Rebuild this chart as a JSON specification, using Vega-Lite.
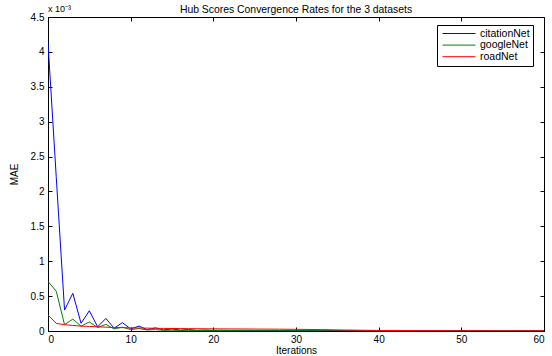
{
  "$schema": "https://vega.github.io/schema/vega-lite/v6.json",
  "width": 496,
  "height": 314,
  "autosize": "none",
  "padding": {"left": 48, "top": 17, "right": 8, "bottom": 25},
  "background": "white",
  "config": {
    "font": "Liberation Sans",
    "view": {"stroke": "black", "strokeWidth": 1},
    "axis": {"grid": false, "domain": false, "tickColor": "black", "labelColor": "black", "titleColor": "black", "labelFontSize": 10, "titleFontSize": 10, "titleFontWeight": "normal", "tickSize": -4, "labelOverlap": false}
  },
  "title": {"text": "Hub Scores Convergence Rates for the 3 datasets", "fontSize": 10.4, "fontWeight": "normal", "color": "black", "offset": 4, "dy": 14, "anchor": "middle", "frame": "group"},
  "data": {"values": [
    {"it":0,"citationNet":4.13,"googleNet":0.71,"roadNet":0.23},
    {"it":1,"citationNet":2.2,"googleNet":0.57,"roadNet":0.11},
    {"it":2,"citationNet":0.30,"googleNet":0.09,"roadNet":0.09},
    {"it":3,"citationNet":0.54,"googleNet":0.17,"roadNet":0.08},
    {"it":4,"citationNet":0.11,"googleNet":0.07,"roadNet":0.07},
    {"it":5,"citationNet":0.29,"googleNet":0.13,"roadNet":0.065},
    {"it":6,"citationNet":0.06,"googleNet":0.05,"roadNet":0.06},
    {"it":7,"citationNet":0.18,"googleNet":0.095,"roadNet":0.055},
    {"it":8,"citationNet":0.04,"googleNet":0.03,"roadNet":0.05},
    {"it":9,"citationNet":0.12,"googleNet":0.055,"roadNet":0.048},
    {"it":10,"citationNet":0.03,"googleNet":0.02,"roadNet":0.045},
    {"it":11,"citationNet":0.07,"googleNet":0.035,"roadNet":0.043},
    {"it":12,"citationNet":0.02,"googleNet":0.015,"roadNet":0.041},
    {"it":13,"citationNet":0.045,"googleNet":0.02,"roadNet":0.039},
    {"it":14,"citationNet":0.015,"googleNet":0.01,"roadNet":0.037},
    {"it":15,"citationNet":0.03,"googleNet":0.012,"roadNet":0.036},
    {"it":16,"citationNet":0.012,"googleNet":0.008,"roadNet":0.035},
    {"it":17,"citationNet":0.02,"googleNet":0.009,"roadNet":0.034},
    {"it":18,"citationNet":0.01,"googleNet":0.007,"roadNet":0.033},
    {"it":19,"citationNet":0.014,"googleNet":0.007,"roadNet":0.032},
    {"it":20,"citationNet":0.01,"googleNet":0.006,"roadNet":0.031},
    {"it":22,"citationNet":0.009,"googleNet":0.006,"roadNet":0.03},
    {"it":25,"citationNet":0.008,"googleNet":0.005,"roadNet":0.028},
    {"it":28,"citationNet":0.007,"googleNet":0.005,"roadNet":0.026},
    {"it":30,"citationNet":0.006,"googleNet":0.004,"roadNet":0.024},
    {"it":33,"citationNet":0.005,"googleNet":0.004,"roadNet":0.02},
    {"it":36,"citationNet":0.005,"googleNet":0.003,"roadNet":0.014},
    {"it":40,"citationNet":0.004,"googleNet":0.003,"roadNet":0.008},
    {"it":45,"citationNet":0.003,"googleNet":0.002,"roadNet":0.005},
    {"it":50,"citationNet":0.003,"googleNet":0.002,"roadNet":0.004},
    {"it":55,"citationNet":0.002,"googleNet":0.002,"roadNet":0.003},
    {"it":60,"citationNet":0.002,"googleNet":0.001,"roadNet":0.003}
  ]},
  "transform": [{"fold": ["citationNet", "googleNet", "roadNet"], "as": ["dataset", "mae"]}],
  "resolve": {"axis": {"x": "independent", "y": "independent"}},
  "layer": [
    {
      "mark": {"type": "line", "strokeWidth": 1, "clip": true},
      "encoding": {
        "x": {"field": "it", "type": "quantitative", "scale": {"domain": [0, 60], "nice": false}, "axis": {"orient": "bottom", "title": "Iterations", "values": [0,10,20,30,40,50,60], "labelPadding": 7, "titlePadding": 1}},
        "y": {"field": "mae", "type": "quantitative", "scale": {"domain": [0, 4.5], "nice": false}, "axis": {"orient": "left", "title": "MAE", "values": [0,0.5,1,1.5,2,2.5,3,3.5,4,4.5], "format": "~g", "labelPadding": 8, "titlePadding": 11}},
        "color": {"field": "dataset", "type": "nominal", "scale": {"domain": ["citationNet", "googleNet", "roadNet"], "range": ["#0000ff", "#008000", "#ff0000"]},
          "legend": {"title": null, "orient": "none", "legendX": 389, "legendY": 8, "symbolType": "M-3.3,0H3.3", "symbolSize": 100, "symbolStrokeWidth": 1, "symbolOffset": 13.5, "labelOffset": 15.5, "labelFontSize": 10.5, "labelColor": "black", "strokeColor": "black", "fillColor": "white", "padding": 3, "rowPadding": 0.6,
            "encode": {"symbols": {"update": {"stroke": {"field": "value", "scale": "color"}, "fill": {"value": "transparent"}, "strokeOpacity": {"value": 1}}}}}}
      }
    },
    {
      "mark": {"type": "point", "opacity": 0},
      "encoding": {
        "x": {"field": "it", "type": "quantitative", "axis": {"orient": "top", "title": null, "labels": false, "values": [0,10,20,30,40,50,60]}},
        "y": {"field": "mae", "type": "quantitative", "axis": {"orient": "right", "title": null, "labels": false, "values": [0,0.5,1,1.5,2,2.5,3,3.5,4,4.5]}}
      }
    },
    {
      "mark": {"type": "text", "align": "left", "baseline": "bottom", "fontSize": 9, "dy": -3, "dx": 0},
      "data": {"values": [{"t": "x 10⁻³", "x": 0, "y": 4.5}]},
      "encoding": {
        "text": {"field": "t"},
        "x": {"field": "x", "type": "quantitative", "axis": null},
        "y": {"field": "y", "type": "quantitative", "axis": null}
      }
    }
  ]
}
